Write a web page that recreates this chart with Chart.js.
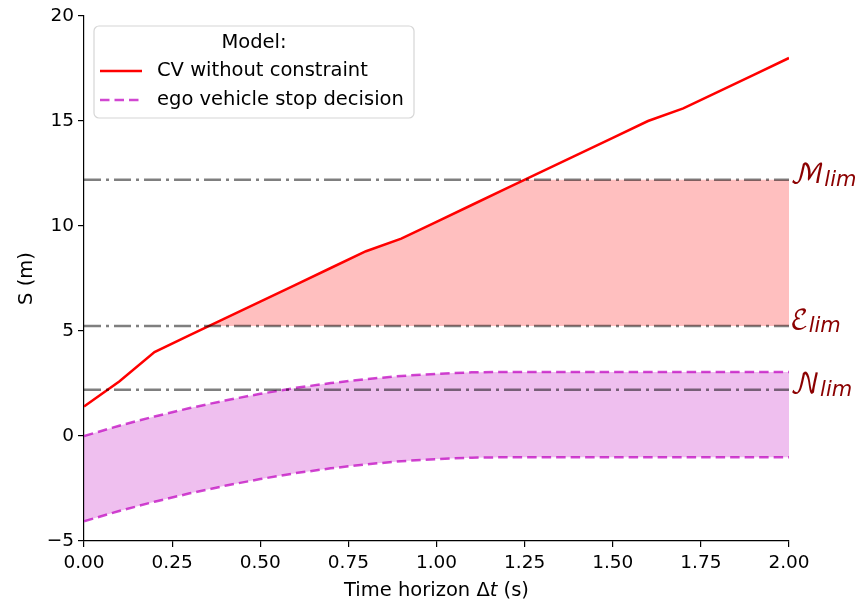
<!DOCTYPE html>
<html>
<head>
<meta charset="utf-8">
<script src="https://cdn.jsdelivr.net/npm/chart.js@4.4.0/dist/chart.umd.min.js"></script>
<style>
html, body { margin: 0; padding: 0; background: #fff; }
#wrap { width: 860px; height: 603px; }
</style>
</head>
<body>
<div id="wrap"><canvas id="chart" width="860" height="603"></canvas></div>
<script>
// values
var timeSteps = [0, 0.1, 0.2, 0.3, 0.4, 0.5, 0.6, 0.7, 0.8, 0.9, 1.0, 1.1, 1.2, 1.3, 1.4, 1.5, 1.6, 1.7, 1.8, 1.9, 2.0];
var cvWithoutConstraint = [1.4, 2.6, 4.0, 4.8, 5.6, 6.4, 7.2, 8.0, 8.8, 9.4, 10.2, 11.0, 11.8, 12.6, 13.4, 14.2, 15.0, 15.6, 16.4, 17.2, 18.0];
var stopUpper = [0, 0.49, 0.93, 1.33, 1.69, 2.01, 2.29, 2.52, 2.71, 2.86, 2.96, 3.03, 3.05, 3.05, 3.05, 3.05, 3.05, 3.05, 3.05, 3.05, 3.05];
var stopLower = [-4.06, -3.57, -3.13, -2.73, -2.37, -2.05, -1.77, -1.54, -1.35, -1.2, -1.1, -1.03, -1.01, -1.01, -1.01, -1.01, -1.01, -1.01, -1.01, -1.01, -1.01];
var seriesNames = ['CV without constraint', 'ego vehicle stop decision'];
var legendTitle = 'Model:';
var limitLetters = ['\u2133', '\u2130', '\uD835\uDCA9'];
var limitSub = 'lim';
var limitValues = [12.2, 5.24, 2.2];
var xTicks = [0, 0.25, 0.5, 0.75, 1.0, 1.25, 1.5, 1.75, 2.0];
var yTicks = [-5, 0, 5, 10, 15, 20];

var FONT = 'DejaVu Sans';
var TXT = '19.5px "' + FONT + '"';
var TXT_I = 'italic 19.5px "' + FONT + '"';
var RED = '#ff0000';
var MAG = 'rgba(191,0,191,0.72)';

function pts(ys) {
    return timeSteps.map(function (t, i) { return { x: t, y: ys[i] }; });
}

function hline(v) {
    return {
        data: [{ x: timeSteps[0], y: v }, { x: timeSteps[timeSteps.length - 1], y: v }],
        borderColor: 'rgba(0,0,0,0.5)',
        borderWidth: 2.5,
        borderDash: [17, 5, 3, 5],
        pointRadius: 0,
        fill: false,
        order: 0
    };
}

// red band between the red line and E_lim, clipped at M_lim
var limitFill = {
    id: 'limitFill',
    beforeDatasetsDraw: function (chart) {
        var x = chart.scales.x, y = chart.scales.y, ctx = chart.ctx;
        var top = y.getPixelForValue(limitValues[0]);
        var base = y.getPixelForValue(limitValues[1]);
        ctx.save();
        ctx.beginPath();
        ctx.rect(x.left, top, x.right - x.left, base - top);
        ctx.clip();
        ctx.beginPath();
        ctx.moveTo(x.getPixelForValue(timeSteps[0]), base);
        timeSteps.forEach(function (t, i) {
            ctx.lineTo(x.getPixelForValue(t), y.getPixelForValue(cvWithoutConstraint[i]));
        });
        ctx.lineTo(x.getPixelForValue(timeSteps[timeSteps.length - 1]), base);
        ctx.closePath();
        ctx.fillStyle = 'rgba(255,0,0,0.25)';
        ctx.fill();
        ctx.restore();
    }
};

// legend box, axis titles and limit labels
var decorations = {
    id: 'decorations',
    afterDraw: function (chart) {
        var ctx = chart.ctx, x = chart.scales.x, y = chart.scales.y;
        ctx.save();

        // legend
        var lx = 94, ly = 26, lw = 320, lh = 92, r = 5;
        ctx.beginPath();
        ctx.moveTo(lx + r, ly);
        ctx.arcTo(lx + lw, ly, lx + lw, ly + lh, r);
        ctx.arcTo(lx + lw, ly + lh, lx, ly + lh, r);
        ctx.arcTo(lx, ly + lh, lx, ly, r);
        ctx.arcTo(lx, ly, lx + lw, ly, r);
        ctx.closePath();
        ctx.fillStyle = 'rgba(255,255,255,0.8)';
        ctx.fill();
        ctx.strokeStyle = '#d6d6d6';
        ctx.lineWidth = 1.2;
        ctx.stroke();

        ctx.fillStyle = '#000';
        ctx.font = TXT;
        ctx.textBaseline = 'middle';
        ctx.textAlign = 'center';
        ctx.fillText(legendTitle, lx + lw / 2, 43);
        ctx.textAlign = 'left';
        var rows = [71, 100];
        var styles = [{ c: RED, d: [] }, { c: MAG, d: [9.5, 5] }];
        rows.forEach(function (ry, i) {
            ctx.beginPath();
            ctx.setLineDash(styles[i].d);
            ctx.strokeStyle = styles[i].c;
            ctx.lineWidth = 2.5;
            ctx.moveTo(100, ry);
            ctx.lineTo(142, ry);
            ctx.stroke();
            ctx.setLineDash([]);
            ctx.fillStyle = '#000';
            ctx.fillText(seriesNames[i], 157, ry);
        });

        // x title with italic t
        var a = 'Time horizon \u0394', b = 't', c = ' (s)';
        ctx.font = TXT;
        var wa = ctx.measureText(a).width, wc = ctx.measureText(c).width;
        ctx.font = TXT_I;
        var wb = ctx.measureText(b).width;
        var sx = (x.left + x.right) / 2 - (wa + wb + wc) / 2, sy = 591;
        ctx.font = TXT;
        ctx.fillText(a, sx, sy);
        ctx.font = TXT_I;
        ctx.fillText(b, sx + wa, sy);
        ctx.font = TXT;
        ctx.fillText(c, sx + wa + wb, sy);

        // y title
        ctx.save();
        ctx.translate(27, (y.top + y.bottom) / 2);
        ctx.rotate(-Math.PI / 2);
        ctx.textAlign = 'center';
        ctx.fillText('S (m)', 0, 0);
        ctx.restore();

        // limit labels
        ctx.textBaseline = 'alphabetic';
        ctx.textAlign = 'left';
        ctx.fillStyle = '#8b0000';
        limitValues.forEach(function (v, i) {
            var py = y.getPixelForValue(v);
            var px = x.right + 1;
            ctx.font = '27px "DejaVu Math TeX Gyre", "' + FONT + '"';
            ctx.fillText(limitLetters[i], px, py + 3);
            var w = ctx.measureText(limitLetters[i]).width;
            ctx.font = 'italic 21px "' + FONT + '"';
            ctx.fillText(limitSub, px + w, py + 6);
        });
        ctx.restore();
    }
};

var axisCommon = {
    type: 'linear',
    grid: { display: true, drawOnChartArea: false, drawTicks: true, tickLength: 6, color: '#000', lineWidth: 1.2 },
    border: { display: true, color: '#000', width: 1.2 }
};

new Chart(document.getElementById('chart'), {
    type: 'line',
    data: {
        datasets: [
            hline(limitValues[0]),
            hline(limitValues[1]),
            hline(limitValues[2]),
            {
                label: seriesNames[0],
                data: pts(cvWithoutConstraint),
                borderColor: RED,
                borderWidth: 2.5,
                pointRadius: 0,
                fill: false,
                order: 1
            },
            {
                label: seriesNames[1],
                data: pts(stopUpper),
                borderColor: MAG,
                borderWidth: 2.5,
                borderDash: [9.5, 5],
                pointRadius: 0,
                fill: '+1',
                backgroundColor: 'rgba(191,0,191,0.25)',
                order: 2
            },
            {
                data: pts(stopLower),
                borderColor: MAG,
                borderWidth: 2.5,
                borderDash: [9.5, 5],
                pointRadius: 0,
                fill: false,
                order: 2
            }
        ]
    },
    options: {
        responsive: false,
        animation: false,
        layout: { padding: { top: 16, right: 71, left: 0, bottom: 0 } },
        plugins: { legend: { display: false }, tooltip: { enabled: false } },
        scales: {
            x: Object.assign({}, axisCommon, {
                min: 0, max: 2,
                afterBuildTicks: function (s) { s.ticks = xTicks.map(function (v) { return { value: v }; }); },
                ticks: { callback: function (v) { return Number(v).toFixed(2); }, font: { family: FONT, size: 18.5 }, color: '#000', maxRotation: 0, padding: 5 },
                afterFit: function (s) { s.height = 62; }
            }),
            y: Object.assign({}, axisCommon, {
                min: -5, max: 20,
                afterBuildTicks: function (s) { s.ticks = yTicks.map(function (v) { return { value: v }; }); },
                ticks: { callback: function (v) { return v < 0 ? '\u2212' + Math.abs(v) : String(v); }, font: { family: FONT, size: 18.5 }, color: '#000', padding: 4 },
                afterFit: function (s) { s.width = 84; }
            })
        }
    },
    plugins: [limitFill, decorations]
});
</script>
</body>
</html>
